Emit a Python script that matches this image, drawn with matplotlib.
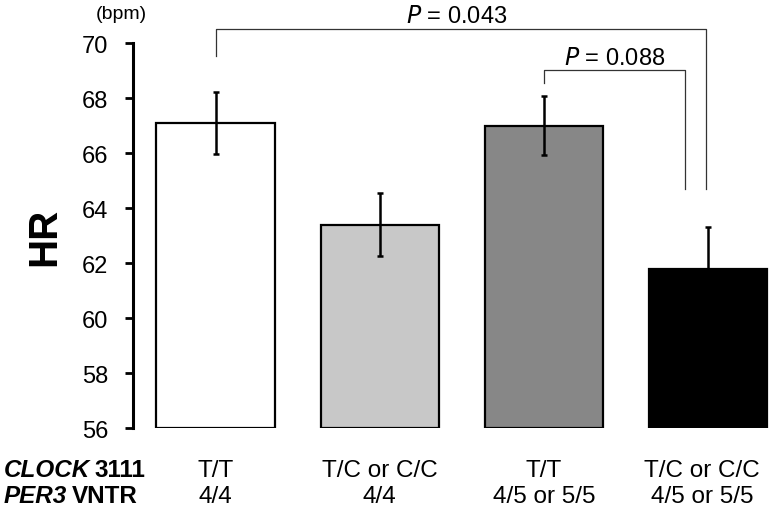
import matplotlib
matplotlib.use("Agg")
import matplotlib.pyplot as plt

plt.rcParams["font.family"] = ["Liberation Sans", "DejaVu Sans"]

clock_labels = ["T/T", "T/C or C/C", "T/T", "T/C or C/C"]
per3_labels = ["4/4", "4/4", "4/5 or 5/5", "4/5 or 5/5"]
hr_means = [67.1, 63.4, 67.0, 61.8]
hr_err = [1.12, 1.15, 1.07, 1.5]
bar_colors = ["#ffffff", "#c8c8c8", "#878787", "#000000"]
y_ticks = [56, 58, 60, 62, 64, 66, 68, 70]


def main() -> None:
    fig = plt.figure(figsize=(7.71, 5.10), dpi=100)
    ax = fig.add_axes([0.1725, 0.1588, 0.8275, 0.7549])

    x = list(range(len(hr_means)))
    ax.bar(x, [m - 56 for m in hr_means], bottom=56, width=0.72,
           color=bar_colors, edgecolor="black", linewidth=1.6, zorder=2)
    ax.errorbar(x, hr_means, yerr=hr_err, fmt="none", ecolor="black",
                elinewidth=1.8, capsize=2.5, capthick=1.8, zorder=3)

    ax.set_ylim(56, 70)
    ax.set_xlim(-0.503, 3.384)
    ax.set_yticks(y_ticks)
    ax.set_xticks([])
    ax.tick_params(axis="y", direction="out", length=6, width=2, labelsize=17, pad=12)
    for side in ["top", "right", "bottom"]:
        ax.spines[side].set_visible(False)
    ax.spines["left"].set_linewidth(2.2)

    # significance brackets
    br = dict(color="#333333", lw=0.9, clip_on=False)
    ax.plot([0, 0, 2.99, 2.99], [69.52, 70.52, 70.52, 64.7], **br)
    ax.plot([2, 2, 2.86, 2.86], [68.55, 69.01, 69.01, 64.7], **br)
    ax.text(1.47, 70.6, "$\\it{P}$ = 0.043", ha="center", va="bottom", fontsize=17)
    ax.text(2.43, 69.07, "$\\it{P}$ = 0.088", ha="center", va="bottom", fontsize=17)

    fig.text(0.057, 0.535, "HR", rotation=90, ha="center", va="center",
             fontsize=29, fontweight="bold")
    fig.text(0.157, 0.972, "(bpm)", ha="center", va="center", fontsize=14)

    # genotype rows under the bars
    row_y = [0.0647, 0.0128]
    for xi, c, p in zip(x, clock_labels, per3_labels):
        xf = fig.transFigure.inverted().transform(ax.transData.transform((xi, 56)))[0]
        if xi == 3:
            xf -= 0.008
        fig.text(xf, row_y[0], c, ha="center", va="baseline", fontsize=17.5)
        fig.text(xf, row_y[1], p, ha="center", va="baseline", fontsize=17.5)

    rows = [(row_y[0], "CLOCK", "3111"), (row_y[1], "PER3", "VNTR")]
    for yy, gene, rest in rows:
        t = fig.text(0.005, yy, gene, ha="left", va="baseline", fontsize=17.5,
                     fontweight="bold", fontstyle="italic")
        fig.canvas.draw()
        bb = t.get_window_extent().transformed(fig.transFigure.inverted())
        fig.text(bb.x1 + 0.006, yy, rest, ha="left", va="baseline", fontsize=17.5,
                 fontweight="bold")

    fig.savefig("out.png", dpi=100)
    plt.close(fig)


if __name__ == "__main__":
    main()
